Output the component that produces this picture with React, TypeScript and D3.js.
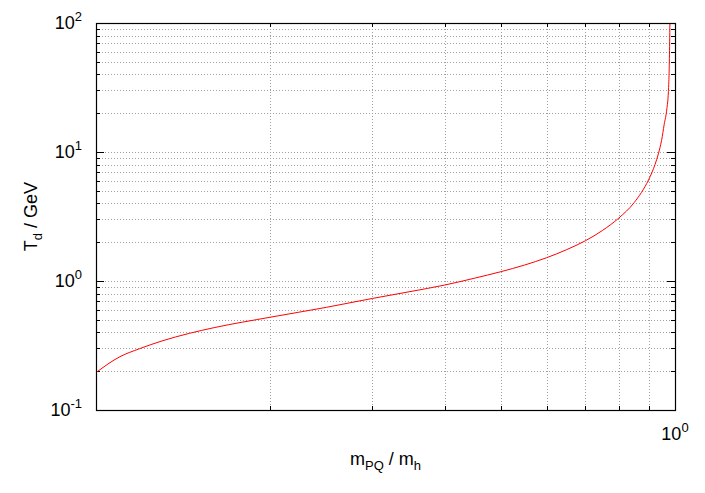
import * as d3 from "d3";
import React, { useRef, useEffect } from "react";

// m_PQ / m_h ratio and decoupling temperature T_d (GeV)
const massRatio = [
  0.1, 0.11, 0.119, 0.13, 0.145, 0.16, 0.2, 0.25, 0.3, 0.35, 0.4, 0.45, 0.5,
  0.55, 0.6, 0.65, 0.7, 0.75, 0.8, 0.85, 0.9, 0.912, 0.936, 0.942, 0.948,
  0.958, 0.968, 0.974, 0.978, 0.98,
];
const tempGeV = [
  0.195, 0.259, 0.299, 0.343, 0.393, 0.435, 0.524, 0.625, 0.732, 0.83, 0.93,
  1.05, 1.18, 1.33, 1.515, 1.75, 2.05, 2.47, 3.08, 4.05, 6.07, 6.9, 9.68, 10.8,
  12.3, 16.4, 21.5, 29.3, 53, 100,
];
const yMajor = [0.1, 1, 10, 100];
const yExp = ["-1", "0", "1", "2"];
const xMinor = [0.2, 0.3, 0.4, 0.5, 0.6, 0.7, 0.8, 0.9];

const W = 705;
const H = 493;
const left = 96;
const right = 675;
const top = 23;
const bottom = 410;
const font = "'Liberation Sans', Arial, Helvetica, sans-serif";

function App() {
  const ref = useRef<SVGSVGElement>(null);

  useEffect(() => {
    const svg = d3.select(ref.current);
    svg.selectAll("*").remove();

    const x = d3.scaleLog().domain([0.1, 1]).range([left, right]);
    const y = d3.scaleLog().domain([0.1, 100]).range([bottom, top]);

    // y minor values 2..9 per decade
    const yMinor: number[] = [];
    yMajor.slice(0, -1).forEach((m) => {
      for (let k = 2; k <= 9; k++) yMinor.push(m * k);
    });

    const grid = svg.append("g");
    grid
      .selectAll("line.hy")
      .data(yMinor.concat([1, 10]))
      .enter()
      .append("line")
      .attr("x1", left)
      .attr("x2", right)
      .attr("y1", (d) => Math.round(y(d)) + 0.5)
      .attr("y2", (d) => Math.round(y(d)) + 0.5)
      .attr("stroke", "#a0a0a0")
      .attr("stroke-width", 1)
      .attr("stroke-dasharray", "1,2");
    grid
      .selectAll("line.vx")
      .data(xMinor)
      .enter()
      .append("line")
      .attr("x1", (d) => Math.round(x(d)) + 0.5)
      .attr("x2", (d) => Math.round(x(d)) + 0.5)
      .attr("y1", top)
      .attr("y2", bottom)
      .attr("stroke", "#a0a0a0")
      .attr("stroke-width", 1)
      .attr("stroke-dasharray", "1,2");

    // ticks
    const ticks = svg.append("g").attr("stroke", "#000").attr("stroke-width", 1);
    const yTicks = yMinor
      .map((d) => ({ v: d, len: 4 }))
      .concat(yMajor.map((d) => ({ v: d, len: 8 })));
    yTicks.forEach((t) => {
      const yy = Math.round(y(t.v)) + 0.5;
      ticks.append("line").attr("x1", left).attr("x2", left + t.len).attr("y1", yy).attr("y2", yy);
      ticks.append("line").attr("x1", right).attr("x2", right - t.len).attr("y1", yy).attr("y2", yy);
    });
    xMinor.forEach((d) => {
      const xx = Math.round(x(d)) + 0.5;
      ticks.append("line").attr("x1", xx).attr("x2", xx).attr("y1", bottom).attr("y2", bottom - 4);
      ticks.append("line").attr("x1", xx).attr("x2", xx).attr("y1", top).attr("y2", top + 4);
    });

    // curve
    const line = d3
      .line<number>()
      .x((d) => x(d))
      .y((d, i) => y(tempGeV[i]))
      .curve(d3.curveMonotoneX);
    svg
      .append("path")
      .attr("d", line(massRatio))
      .attr("fill", "none")
      .attr("stroke", "#ff0000")
      .attr("stroke-width", 1);

    // border
    svg
      .append("rect")
      .attr("x", left + 0.5)
      .attr("y", top + 0.5)
      .attr("width", right - left)
      .attr("height", bottom - top)
      .attr("fill", "none")
      .attr("stroke", "#000")
      .attr("stroke-width", 1.2);

    // y tick labels
    yMajor.forEach((d, i) => {
      const t = svg
        .append("text")
        .attr("x", 82)
        .attr("y", y(d) + 6)
        .attr("text-anchor", "end")
        .attr("font-family", font)
        .attr("font-size", 18);
      t.append("tspan").text("10");
      t.append("tspan").attr("font-size", 13).attr("dy", -8).text(yExp[i]);
    });

    // x tick label
    const xt = svg
      .append("text")
      .attr("x", x(1))
      .attr("y", 440)
      .attr("text-anchor", "middle")
      .attr("font-family", font)
      .attr("font-size", 18);
    xt.append("tspan").text("10");
    xt.append("tspan").attr("font-size", 13).attr("dy", -8).text("0");

    // axis titles
    const xl = svg
      .append("text")
      .attr("x", (left + right) / 2)
      .attr("y", 465)
      .attr("text-anchor", "middle")
      .attr("font-family", font)
      .attr("font-size", 18);
    xl.append("tspan").text("m");
    xl.append("tspan").attr("font-size", 13).attr("dy", 5).text("PQ");
    xl.append("tspan").attr("dy", -5).text(" / m");
    xl.append("tspan").attr("font-size", 13).attr("dy", 5).text("h");

    const yl = svg
      .append("text")
      .attr("transform", `translate(37,${(top + bottom) / 2}) rotate(-90)`)
      .attr("text-anchor", "middle")
      .attr("font-family", font)
      .attr("font-size", 18);
    yl.append("tspan").text("T");
    yl.append("tspan").attr("font-size", 13).attr("dy", 5).text("d");
    yl.append("tspan").attr("dy", -5).text(" / GeV");
  }, []);

  return (
    <svg
      ref={ref}
      width={W}
      height={H}
      style={{ position: "absolute", left: 0, top: 0, background: "#fff" }}
    />
  );
}

export default App;
